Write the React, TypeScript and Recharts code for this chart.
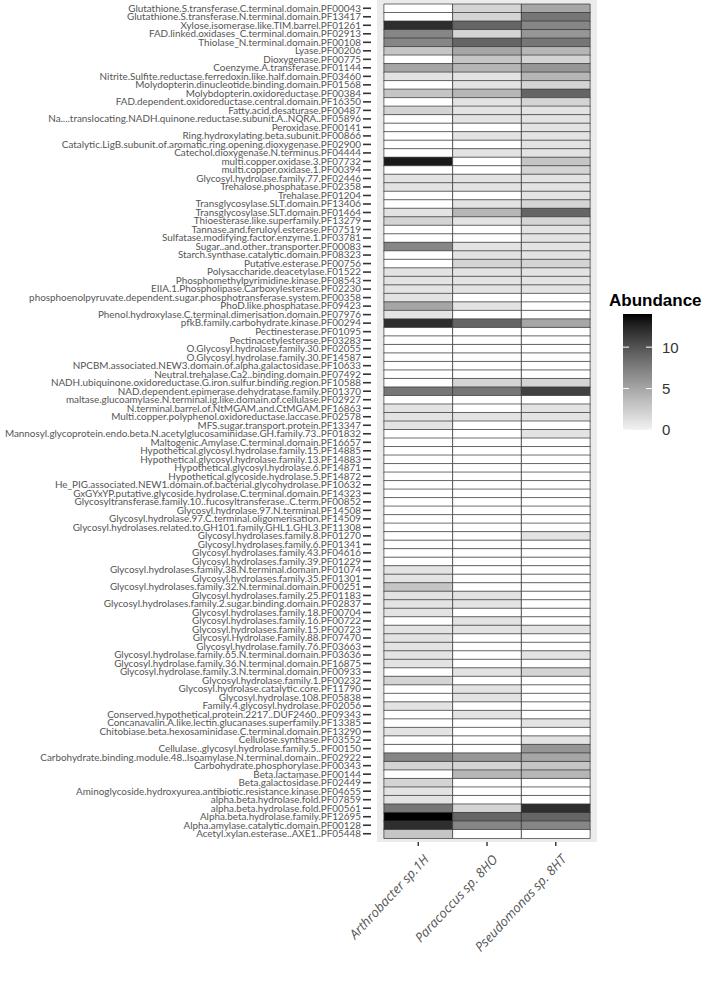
import { Bar, BarChart, CartesianGrid, Cell, XAxis, YAxis } from "recharts";

const domains = [
  "Glutathione.S.transferase.C.terminal.domain.PF00043",
  "Glutathione.S.transferase.N.terminal.domain.PF13417",
  "Xylose.isomerase.like.TIM.barrel.PF01261",
  "FAD.linked.oxidases_C.terminal.domain.PF02913",
  "Thiolase_N.terminal.domain.PF00108",
  "Lyase.PF00206",
  "Dioxygenase.PF00775",
  "Coenzyme.A.transferase.PF01144",
  "Nitrite.Sulfite.reductase.ferredoxin.like.half.domain.PF03460",
  "Molydopterin.dinucleotide.binding.domain.PF01568",
  "Molybdopterin.oxidoreductase.PF00384",
  "FAD.dependent.oxidoreductase.central.domain.PF16350",
  "Fatty.acid.desaturase.PF00487",
  "Na....translocating.NADH.quinone.reductase.subunit.A..NQRA..PF05896",
  "Peroxidase.PF00141",
  "Ring.hydroxylating.beta.subunit.PF00866",
  "Catalytic.LigB.subunit.of.aromatic.ring.opening.dioxygenase.PF02900",
  "Catechol.dioxygenase.N.terminus.PF04444",
  "multi.copper.oxidase.3.PF07732",
  "multi.copper.oxidase.1.PF00394",
  "Glycosyl.hydrolase.family.77.PF02446",
  "Trehalose.phosphatase.PF02358",
  "Trehalase.PF01204",
  "Transglycosylase.SLT.domain.PF13406",
  "Transglycosylase.SLT.domain.PF01464",
  "Thioesterase.like.superfamily.PF13279",
  "Tannase.and.feruloyl.esterase.PF07519",
  "Sulfatase.modifying.factor.enzyme.1.PF03781",
  "Sugar..and.other..transporter.PF00083",
  "Starch.synthase.catalytic.domain.PF08323",
  "Putative.esterase.PF00756",
  "Polysaccharide.deacetylase.F01522",
  "Phosphomethylpyrimidine.kinase.PF08543",
  "EIIA.1.Phospholipase.Carboxylesterase.PF02230",
  "phosphoenolpyruvate.dependent.sugar.phosphotransferase.system.PF00358",
  "PhoD.like.phosphatase.PF09423",
  "Phenol.hydroxylase.C.terminal.dimerisation.domain.PF07976",
  "pfkB.family.carbohydrate.kinase.PF00294",
  "Pectinesterase.PF01095",
  "Pectinacetylesterase.PF03283",
  "O.Glycosyl.hydrolase.family.30.PF02055",
  "O.Glycosyl.hydrolase.family.30.PF14587",
  "NPCBM.associated.NEW3.domain.of.alpha.galactosidase.PF10633",
  "Neutral.trehalase.Ca2..binding.domain.PF07492",
  "NADH.ubiquinone.oxidoreductase.G.iron.sulfur.binding.region.PF10588",
  "NAD.dependent.epimerase.dehydratase.family.PF01370",
  "maltase.glucoamylase.N.terminal.ig.like.domain.of.cellulase.PF02927",
  "N.terminal.barrel.of.NtMGAM.and.CtMGAM.PF16863",
  "Multi.copper.polyphenol.oxidoreductase.laccase.PF02578",
  "MFS.sugar.transport.protein.PF13347",
  "Mannosyl.glycoprotein.endo.beta.N.acetylglucosaminidase.GH.family.73..PF01832",
  "Maltogenic.Amylase.C.terminal.domain.PF16657",
  "Hypothetical.glycosyl.hydrolase.family.15.PF14885",
  "Hypothetical.glycosyl.hydrolase.family.13.PF14883",
  "Hypothetical.glycosyl.hydrolase.6.PF14871",
  "Hypothetical.glycoside.hydrolase.5.PF14872",
  "He_PIG.associated.NEW1.domain.of.bacterial.glycohydrolase.PF10632",
  "GxGYxYP.putative.glycoside.hydrolase.C.terminal.domain.PF14323",
  "Glycosyltransferase.family.10..fucosyltransferase..C.term.PF00852",
  "Glycosyl.hydrolase.97.N.terminal.PF14508",
  "Glycosyl.hydrolase.97.C.terminal.oligomerisation.PF14509",
  "Glycosyl.hydrolases.related.to.GH101.family.GHL1.GHL3.PF11308",
  "Glycosyl.hydrolases.family.8.PF01270",
  "Glycosyl.hydrolases.family.6.PF01341",
  "Glycosyl.hydrolases.family.43.PF04616",
  "Glycosyl.hydrolases.family.39.PF01229",
  "Glycosyl.hydrolases.family.38.N.terminal.domain.PF01074",
  "Glycosyl.hydrolases.family.35.PF01301",
  "Glycosyl.hydrolases.family.32.N.terminal.domain.PF00251",
  "Glycosyl.hydrolases.family.25.PF01183",
  "Glycosyl.hydrolases.family.2.sugar.binding.domain.PF02837",
  "Glycosyl.hydrolases.family.18.PF00704",
  "Glycosyl.hydrolases.family.16.PF00722",
  "Glycosyl.hydrolases.family.15.PF00723",
  "Glycosyl.Hydrolase.Family.88.PF07470",
  "Glycosyl.hydrolase.family.76.PF03663",
  "Glycosyl.hydrolase.family.65.N.terminal.domain.PF03636",
  "Glycosyl.hydrolase.family.36.N.terminal.domain.PF16875",
  "Glycosyl.hydrolase.family.3.N.terminal.domain.PF00933",
  "Glycosyl.hydrolase.family.1.PF00232",
  "Glycosyl.hydrolase.catalytic.core.PF11790",
  "Glycosyl.hydrolase.108.PF05838",
  "Family.4.glycosyl.hydrolase.PF02056",
  "Conserved.hypothetical.protein.2217..DUF2460..PF09343",
  "Concanavalin.A.like.lectin.glucanases.superfamily.PF13385",
  "Chitobiase.beta.hexosaminidase.C.terminal.domain.PF13290",
  "Cellulose.synthase.PF03552",
  "Cellulase..glycosyl.hydrolase.family.5..PF00150",
  "Carbohydrate.binding.module.48..Isoamylase.N.terminal.domain..PF02922",
  "Carbohydrate.phosphorylase.PF00343",
  "Beta.lactamase.PF00144",
  "Beta.galactosidase.PF02449",
  "Aminoglycoside.hydroxyurea.antibiotic.resistance.kinase.PF04655",
  "alpha.beta.hydrolase.fold.PF07859",
  "alpha.beta.hydrolase.fold.PF00561",
  "Alpha.beta.hydrolase.family.PF12695",
  "Alpha.amylase.catalytic.domain.PF00128",
  "Acetyl.xylan.esterase..AXE1..PF05448",
];

// abundance per domain, same order as domains
const arthrobacter = [
  0, 0, 12, 7, 7, 3, 0, 5, 1, 0, 3, 0, 2, 0, 0, 0, 0, 0, 13, 0,
  1, 1, 0, 0, 1, 2, 0, 0, 7, 0, 0, 1, 1, 1, 1, 5, 1, 12, 0, 0,
  0, 0, 0, 0, 0, 8, 0, 1, 1, 1, 0, 0, 0, 0, 0, 0, 0, 0, 0, 0,
  0, 0, 0, 0, 0, 0, 1, 1, 3, 1, 1, 1, 0, 1, 1, 1, 1, 1, 0, 2,
  0, 0, 1, 0, 0, 1, 0, 0, 7, 2, 0, 2, 1, 1, 8, 14, 12, 3,
];
const paracoccus = [
  2, 2, 9, 2, 9, 5, 3, 4, 1, 1, 4, 1, 1, 1, 0, 1, 0, 1, 0, 0,
  1, 1, 0, 1, 4, 1, 0, 0, 1, 1, 2, 1, 1, 1, 0, 1, 0, 9, 0, 0,
  0, 0, 0, 0, 2, 8, 0, 0, 1, 0, 0, 0, 0, 0, 0, 0, 0, 0, 0, 0,
  0, 0, 0, 0, 0, 0, 0, 0, 0, 1, 1, 0, 1, 1, 0, 0, 0, 0, 1, 0,
  1, 1, 0, 1, 0, 0, 0, 0, 6, 2, 4, 0, 0, 0, 2, 9, 7, 0,
];
const pseudomonas = [
  5, 8, 7, 6, 8, 4, 2, 6, 4, 2, 9, 2, 1, 1, 1, 1, 1, 1, 3, 2,
  1, 1, 1, 2, 9, 2, 1, 1, 1, 1, 2, 1, 1, 1, 0, 0, 0, 5, 0, 0,
  0, 0, 0, 0, 2, 11, 0, 1, 1, 0, 1, 0, 0, 0, 0, 0, 0, 0, 0, 0,
  0, 0, 1, 0, 0, 0, 0, 0, 0, 0, 0, 0, 0, 1, 0, 0, 1, 0, 2, 0,
  0, 0, 0, 0, 1, 0, 1, 6, 5, 3, 4, 0, 0, 0, 12, 9, 7, 0,
];

const species = ["Arthrobacter sp.1H", "Paracoccus sp. 8HO", "Pseudomonas sp. 8HT"];
const speciesTicks = [0.5, 1.5, 2.5];
const legendTicks = [0, 5, 10];
const maxAbundance = 14;

const columns = [arthrobacter, paracoccus, pseudomonas];
const colKeys = ["c0", "c1", "c2"];

function shade(v: number) {
  const g = Math.round(242 * Math.pow(1 - v / maxAbundance, 0.85));
  return `rgb(${g},${g},${g})`;
}
function cellFill(v: number) {
  return v === 0 ? "#ffffff" : shade(v);
}

const rows = domains.map((name) => ({ name, c0: 1, c1: 1, c2: 1 }));

function DomainTick(props: any) {
  const { x, y, payload } = props;
  return (
    <g>
      <line x1={x - 14} x2={x - 6} y1={y} y2={y} stroke="#333" strokeWidth={1.6} />
      <text
        x={x - 16}
        y={y}
        dy="0.34em"
        textAnchor="end"
        fontSize={9.9}
        fontFamily="Lato, 'Open Sans', sans-serif"
        fill="#555"
      >
        {payload.value}
      </text>
    </g>
  );
}

function SpeciesTick(props: any) {
  const { x, y, payload } = props;
  const label = species[speciesTicks.indexOf(payload.value)];
  return (
    <text
      x={0}
      y={0}
      dy="0.35em"
      transform={`translate(${x + 8}, ${y + 9}) rotate(-47)`}
      textAnchor="end"
      fontSize={13}
      fontStyle="italic"
      fontFamily="'Open Sans', sans-serif"
      fill="#555"
    >
      {label}
    </text>
  );
}

function AbundanceLegend() {
  const barX = 623;
  const barW = 29;
  const barTop = 314;
  const barBottom = 430;
  const yOf = (v: number) => barBottom - (v / maxAbundance) * (barBottom - barTop);
  const stops = Array.from({ length: 15 }, (_, i) => i);
  return (
    <svg width={708} height={994} style={{ position: "absolute", left: 0, top: 0, pointerEvents: "none" }}>
      <defs>
        <linearGradient id="abund" x1="0" y1="1" x2="0" y2="0">
          {stops.map((v) => (
            <stop key={v} offset={`${(v / maxAbundance) * 100}%`} stopColor={shade(v)} />
          ))}
        </linearGradient>
      </defs>
      <text x={609} y={306} fontSize={17} fontWeight="bold" fontFamily="'Liberation Sans', Arial, sans-serif" fill="#000">
        Abundance
      </text>
      <rect x={barX} y={barTop} width={barW} height={barBottom - barTop} fill="url(#abund)" />
      {legendTicks.map((t) => (
        <g key={t}>
          <line x1={barX} x2={barX + 6} y1={yOf(t)} y2={yOf(t)} stroke="#fff" strokeWidth={1} />
          <line x1={barX + barW - 6} x2={barX + barW} y1={yOf(t)} y2={yOf(t)} stroke="#fff" strokeWidth={1} />
          <text
            x={662}
            y={yOf(t)}
            dy="0.36em"
            fontSize={15}
            fontFamily="'Liberation Sans', Arial, sans-serif"
            fill="#333"
          >
            {t}
          </text>
        </g>
      ))}
    </svg>
  );
}

export default function App() {
  return (
    <div style={{ position: "absolute", left: 0, top: 0, width: 708, height: 994, background: "#fff" }}>
      <BarChart
        width={708}
        height={994}
        data={rows}
        layout="vertical"
        margin={{ top: 0, right: 111, bottom: 0, left: 0 }}
        barCategoryGap={0}
        barGap={0}
      >
        <CartesianGrid horizontal={false} vertical={false} fill="#ebebeb" />
        <XAxis
          type="number"
          domain={[-0.1, 3.1]}
          ticks={speciesTicks}
          interval={0}
          allowDataOverflow
          axisLine={false}
          tickLine={{ stroke: "#333", strokeWidth: 1.4 }}
          tickSize={4}
          tick={<SpeciesTick />}
          height={152}
        />
        <YAxis
          type="category"
          dataKey="name"
          width={377}
          interval={0}
          axisLine={false}
          tickLine={false}
          tickSize={0}
          tickMargin={0}
          padding={{ top: 4, bottom: 4 }}
          tick={<DomainTick />}
        />
        {colKeys.map((key, ci) => (
          <Bar key={key} dataKey={key} stackId="heat" stroke="#333" strokeWidth={0.7} isAnimationActive={false}>
            {rows.map((r, ri) => (
              <Cell key={r.name} fill={cellFill(columns[ci][ri])} />
            ))}
          </Bar>
        ))}
      </BarChart>
      <AbundanceLegend />
    </div>
  );
}
